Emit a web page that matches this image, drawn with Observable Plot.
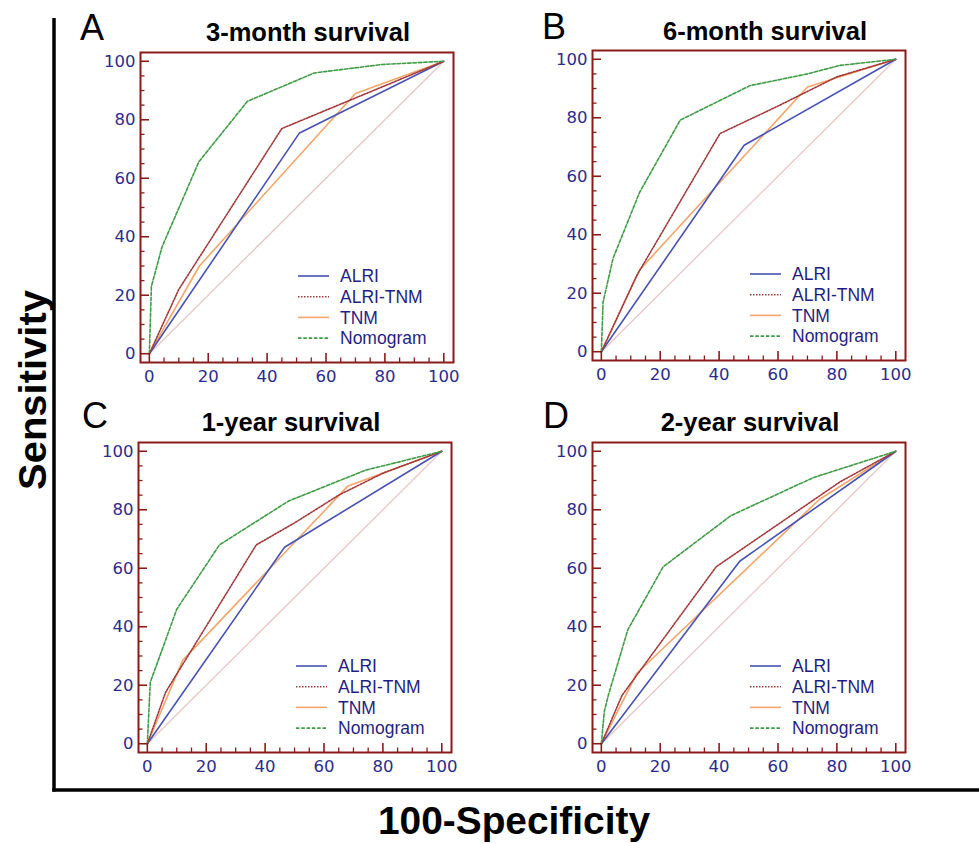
<!DOCTYPE html>
<html><head><meta charset="utf-8">
<script src="https://cdn.jsdelivr.net/npm/d3@7"></script>
<script src="https://cdn.jsdelivr.net/npm/@observablehq/plot@0.6"></script>
<style>
body{margin:0;background:#fff;font-family:"Liberation Sans",Arial,sans-serif}
#root{position:relative;width:979px;height:843px;overflow:hidden;background:#fff}
.panel{position:absolute}
.panel svg .legend text{font-size:17.5px;text-anchor:start}
</style></head><body><div id="root"></div>
<script>
// ---------- data ----------
const seriesNames = ["ALRI", "ALRI-TNM", "TNM", "Nomogram"];
const panelLetters = ["A", "B", "C", "D"];
const panelTitles = ["3-month survival", "6-month survival", "1-year survival", "2-year survival"];
const majorTicks = [0, 20, 40, 60, 80, 100];
const minorTicks = [5, 10, 15, 25, 30, 35, 45, 50, 55, 65, 70, 75, 85, 90, 95];
const diagonal = [[0, 0], [100, 100]];
const xAxisTitle = "100-Specificity";
const yAxisTitle = "Sensitivity";

// 3-month
const m3_alri = [[0, 0], [51, 75.5], [100, 100]];
const m3_alriTnm = [[0, 0], [10, 22], [45, 77], [100, 100]];
const m3_tnm = [[0, 0], [17, 30], [70, 89], [100, 100]];
const m3_nomogram = [[0, 0], [0.7, 23], [4.3, 36.5], [16.8, 65.6], [33.3, 86.3], [56, 96], [79, 98.9], [100, 100]];
// 6-month
const m6_alri = [[0, 0], [48.5, 70.6], [100, 100]];
const m6_alriTnm = [[0, 0], [12, 26], [40.3, 74.6], [60, 84], [80, 94], [100, 100]];
const m6_tnm = [[0, 0], [13, 28], [70, 90.5], [100, 100]];
const m6_nomogram = [[0, 0], [0.6, 17], [4, 32], [13, 54.5], [26.8, 79.2], [50.5, 91], [70, 95], [81, 97.9], [100, 100]];
// 1-year
const y1_alri = [[0, 0], [46.6, 67.2], [100, 100]];
const y1_alriTnm = [[0, 0], [6.2, 17.6], [37, 68], [50, 75.5], [65, 85], [80, 92.5], [100, 100]];
const y1_tnm = [[0, 0], [12, 28.5], [68, 88], [100, 100]];
const y1_nomogram = [[0, 0], [1, 21], [10, 46], [24.5, 68], [48, 83], [74, 93.5], [100, 100]];
// 2-year
const y2_alri = [[0, 0], [47, 62.4], [100, 100]];
const y2_alriTnm = [[0, 0], [7, 16.5], [39, 60.5], [81, 89.5], [100, 100]];
const y2_tnm = [[0, 0], [12, 24], [74, 83.5], [100, 100]];
const y2_nomogram = [[0, 0], [1, 11], [2.5, 17], [9, 39], [21, 60.5], [44, 78], [72, 91], [100, 100]];

const panelSeries = [
  [m3_alri, m3_alriTnm, m3_tnm, m3_nomogram],
  [m6_alri, m6_alriTnm, m6_tnm, m6_nomogram],
  [y1_alri, y1_alriTnm, y1_tnm, y1_nomogram],
  [y2_alri, y2_alriTnm, y2_tnm, y2_nomogram]
];

// ---------- styles / layout ----------
const colors = ["#4752b6", "#a3383a", "#f5a56a", "#3f9c45"];
const dashes = [null, "1.5,1.5", null, "3.5,1.8"];
const widths = [1.6, 1.6, 1.6, 1.6];
const frameColor = "#8b1a1a";
const labelColor = "#2b2b8c";
const legendColor = "#1f1f82";
const frameW = 313, frameH = 310;
const mL = 40, mR = 8, mT = 6, mB = 30;
const frameOrigins = [[140, 52], [592, 50], [138, 442], [592, 442]];
const titleCenters = [[308, 41], [765, 40], [291, 431], [750, 431]];
const letterPos = [[80, 40], [542, 39], [82, 428], [543, 428]];

const root = document.getElementById("root");

// overlay: big axes, labels, titles
const ov = d3.select(root).append("svg")
  .attr("width", 979).attr("height", 843)
  .style("position", "absolute").style("left", 0).style("top", 0);
ov.append("line").attr("x1", 54).attr("y1", 18).attr("x2", 54).attr("y2", 791.5)
  .attr("stroke", "#000").attr("stroke-width", 3.5);
ov.append("line").attr("x1", 52.3).attr("y1", 790).attr("x2", 979).attr("y2", 790)
  .attr("stroke", "#000").attr("stroke-width", 3.5);
ov.append("text").text(yAxisTitle)
  .attr("transform", "translate(46,490) rotate(-90)")
  .attr("font-family", "Liberation Sans, Arial, sans-serif").attr("font-weight", "bold")
  .attr("font-size", 38).attr("textLength", 200).attr("lengthAdjust", "spacingAndGlyphs");
ov.append("text").text(xAxisTitle)
  .attr("x", 378).attr("y", 834)
  .attr("font-family", "Liberation Sans, Arial, sans-serif").attr("font-weight", "bold")
  .attr("font-size", 38).attr("textLength", 272).attr("lengthAdjust", "spacingAndGlyphs");
panelTitles.forEach((t, i) => {
  ov.append("text").text(t).attr("x", titleCenters[i][0]).attr("y", titleCenters[i][1])
    .attr("text-anchor", "middle")
    .attr("font-family", "Liberation Sans, Arial, sans-serif").attr("font-weight", "bold")
    .attr("font-size", 25.5);
  ov.append("text").text(panelLetters[i]).attr("x", letterPos[i][0]).attr("y", letterPos[i][1])
    .attr("font-family", "Liberation Sans, Arial, sans-serif")
    .attr("font-size", 36);
});

// panels
panelSeries.forEach((series, i) => {
  const chart = Plot.plot({
    width: mL + frameW + mR, height: mT + frameH + mB,
    marginLeft: mL, marginRight: mR, marginTop: mT, marginBottom: mB,
    x: {domain: [-3, 103.3]},
    y: {domain: [-3, 103]},
    style: {background: "transparent", color: labelColor, fontFamily: "DejaVu Sans, sans-serif", fontSize: "16px", overflow: "visible"},
    marks: [
      Plot.line(diagonal, {x: d => d[0], y: d => d[1], stroke: "#e8c6c6", strokeWidth: 1.3}),
      ...[2, 0, 1, 3].map(k => Plot.line(series[k], {
        x: d => d[0], y: d => d[1], stroke: colors[k], strokeWidth: widths[k],
        strokeDasharray: dashes[k] || undefined
      })),
      Plot.tickX(minorTicks, {x: d => d, stroke: frameColor, strokeWidth: 1.3, insetTop: frameH - 4.5}),
      Plot.tickX(majorTicks, {x: d => d, stroke: frameColor, strokeWidth: 1.6, insetTop: frameH - 9}),
      Plot.tickY(minorTicks, {y: d => d, stroke: frameColor, strokeWidth: 1.3, insetRight: frameW - 4.5}),
      Plot.tickY(majorTicks, {y: d => d, stroke: frameColor, strokeWidth: 1.6, insetRight: frameW - 9}),
      Plot.frame({stroke: frameColor, strokeWidth: 2}),
      Plot.axisX(majorTicks, {tickSize: 0, tickPadding: 8, fill: labelColor, fontSize: 16.5, fontFamily: "DejaVu Sans, sans-serif", label: null}),
      Plot.axisY(majorTicks, {tickSize: 0, tickPadding: 5, fill: labelColor, fontSize: 16.5, fontFamily: "DejaVu Sans, sans-serif", label: null})
    ]
  });
  const div = document.createElement("div");
  div.className = "panel";
  div.style.left = (frameOrigins[i][0] - mL) + "px";
  div.style.top = (frameOrigins[i][1] - mT) + "px";
  div.appendChild(chart);
  root.appendChild(div);

  // legend inside the frame (bottom-right)
  const g = d3.select(chart).append("g").attr("class", "legend")
    .attr("font-family", "Liberation Sans, Arial, sans-serif").attr("font-size", 17.5)
    .attr("text-anchor", "start");
  seriesNames.forEach((name, k) => {
    const yy = mT + 224 + k * 20.7;
    g.append("line").attr("x1", mL + 158).attr("x2", mL + 189).attr("y1", yy).attr("y2", yy)
      .attr("stroke", colors[k]).attr("stroke-width", widths[k])
      .attr("stroke-dasharray", dashes[k]);
    g.append("text").text(name).attr("x", mL + 200).attr("y", yy).attr("dy", "0.36em")
      .attr("text-anchor", "start").attr("fill", legendColor);
  });
});
</script></body></html>
